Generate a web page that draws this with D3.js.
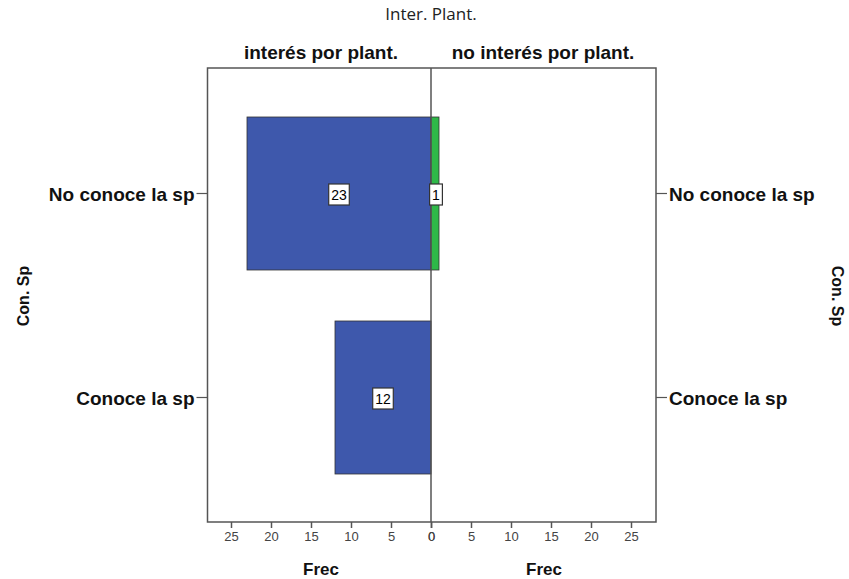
<!DOCTYPE html>
<html><head><meta charset="utf-8">
<script src="https://cdn.jsdelivr.net/npm/d3@7"></script>
<style>body{margin:0;background:#fff}svg{display:block}</style>
</head><body>
<svg id="c" width="849" height="579"></svg>
<script>
const title = "Inter. Plant.";
const panels = ["interés por plant.", "no interés por plant."];
const categories = ["No conoce la sp", "Conoce la sp"];
const leftValues = [23, 12];   // interés por plant.
const rightValues = [1, 0];    // no interés por plant.
const tickValues = [0, 5, 10, 15, 20, 25];
const yTitle = "Con. Sp";
const xTitle = "Frec";

const svg = d3.select("#c");
const fx = 207.5, fr = 656, fy = 68, fb = 522, cx = 431;
const xL = d3.scaleLinear().domain([0, 28]).range([cx, cx - 8*28]);
const xR = d3.scaleLinear().domain([0, 28]).range([cx, cx + 8*28]);
const y = d3.scaleBand().domain(categories).range([91.5, 499.5]).paddingInner(0.25).paddingOuter(0.125);

const arial = "Liberation Sans, Arial, sans-serif";

// frame
svg.append("rect").attr("x", fx).attr("y", fy).attr("width", fr - fx).attr("height", fb - fy)
  .attr("fill", "none").attr("stroke", "#555").attr("stroke-width", 1.5);

// bars
const blue = "#3E58AC", green = "#2EB848";
svg.selectAll(".bl").data(categories).join("rect")
  .attr("x", (d,i) => xL(leftValues[i])).attr("y", d => y(d))
  .attr("width", (d,i) => xL(0) - xL(leftValues[i])).attr("height", y.bandwidth())
  .attr("fill", blue).attr("stroke", "#333").attr("stroke-width", 0.8)
  .style("display", (d,i) => leftValues[i] > 0 ? null : "none");
svg.selectAll(".br").data(categories).join("rect")
  .attr("x", xR(0)).attr("y", d => y(d))
  .attr("width", (d,i) => xR(rightValues[i]) - xR(0)).attr("height", y.bandwidth())
  .attr("fill", green).attr("stroke", "#333").attr("stroke-width", 0.8)
  .style("display", (d,i) => rightValues[i] > 0 ? null : "none");

// center line
svg.append("line").attr("x1", cx).attr("x2", cx).attr("y1", fy).attr("y2", fb)
  .attr("stroke", "#555").attr("stroke-width", 1.5);

// value labels
function label(xc, yc, txt) {
  const g = svg.append("g");
  const t = g.append("text").attr("x", xc).attr("y", yc + 5).attr("text-anchor", "middle")
    .attr("font-family", arial).attr("font-size", 14).attr("fill", "#000").text(txt);
  const w = t.node().getComputedTextLength();
  g.insert("rect", "text").attr("x", xc - w/2 - 2.5).attr("y", yc - 10.5).attr("width", w + 5).attr("height", 21)
    .attr("fill", "#fff").attr("stroke", "#333").attr("stroke-width", 1.2);
}
categories.forEach((c, i) => {
  const yc = y(c) + y.bandwidth()/2 + 1;
  if (leftValues[i] > 0) label((xL(leftValues[i]) + xL(0))/2, yc, leftValues[i]);
  if (rightValues[i] > 0) label((xR(rightValues[i]) + xR(0))/2 + 1, yc, rightValues[i]);
});

// x axes
function xAxis(scale) {
  const g = svg.append("g").attr("transform", `translate(0,${fb})`)
    .call(d3.axisBottom(scale).tickValues(tickValues).tickSize(6).tickPadding(4));
  g.select(".domain").remove();
  g.selectAll(".tick line").attr("stroke", "#555").attr("stroke-width", 1.5);
  g.selectAll(".tick text").attr("font-family", arial).attr("font-size", 13).attr("fill", "#444");
}
xAxis(xL); xAxis(xR);

// y axes
const gl = svg.append("g").attr("transform", `translate(${fx},0)`)
  .call(d3.axisLeft(y).tickSize(11).tickPadding(2));
const gr = svg.append("g").attr("transform", `translate(${fr},0)`)
  .call(d3.axisRight(y).tickSize(11).tickPadding(2));
[gl, gr].forEach(g => {
  g.select(".domain").remove();
  g.selectAll(".tick line").attr("stroke", "#555").attr("stroke-width", 1.2);
  g.selectAll(".tick text").attr("font-family", arial).attr("font-size", 19).attr("font-weight", "bold")
    .attr("fill", "#111").attr("dy", "0.42em");
});

// titles
svg.append("text").attr("x", 431).attr("y", 20).attr("text-anchor", "middle")
  .attr("font-family", "Open Sans, sans-serif").attr("font-size", 17).attr("fill", "#222").text(title);
svg.append("text").attr("x", 321).attr("y", 59).attr("text-anchor", "middle")
  .attr("font-family", arial).attr("font-size", 19).attr("font-weight", "bold").attr("fill", "#111").text(panels[0]);
svg.append("text").attr("x", 543).attr("y", 59).attr("text-anchor", "middle")
  .attr("font-family", arial).attr("font-size", 19).attr("font-weight", "bold").attr("fill", "#111").text(panels[1]);

svg.append("text").attr("transform", "translate(29,296) rotate(-90)").attr("text-anchor", "middle")
  .attr("font-family", arial).attr("font-size", 16).attr("font-weight", "bold").attr("fill", "#111").text(yTitle);
svg.append("text").attr("transform", "translate(832,296) rotate(90)").attr("text-anchor", "middle")
  .attr("font-family", arial).attr("font-size", 16).attr("font-weight", "bold").attr("fill", "#111").text(yTitle);

svg.append("text").attr("x", 321).attr("y", 575).attr("text-anchor", "middle")
  .attr("font-family", arial).attr("font-size", 17).attr("font-weight", "bold").attr("fill", "#111").text(xTitle);
svg.append("text").attr("x", 544).attr("y", 575).attr("text-anchor", "middle")
  .attr("font-family", arial).attr("font-size", 17).attr("font-weight", "bold").attr("fill", "#111").text(xTitle);
</script>
</body></html>
